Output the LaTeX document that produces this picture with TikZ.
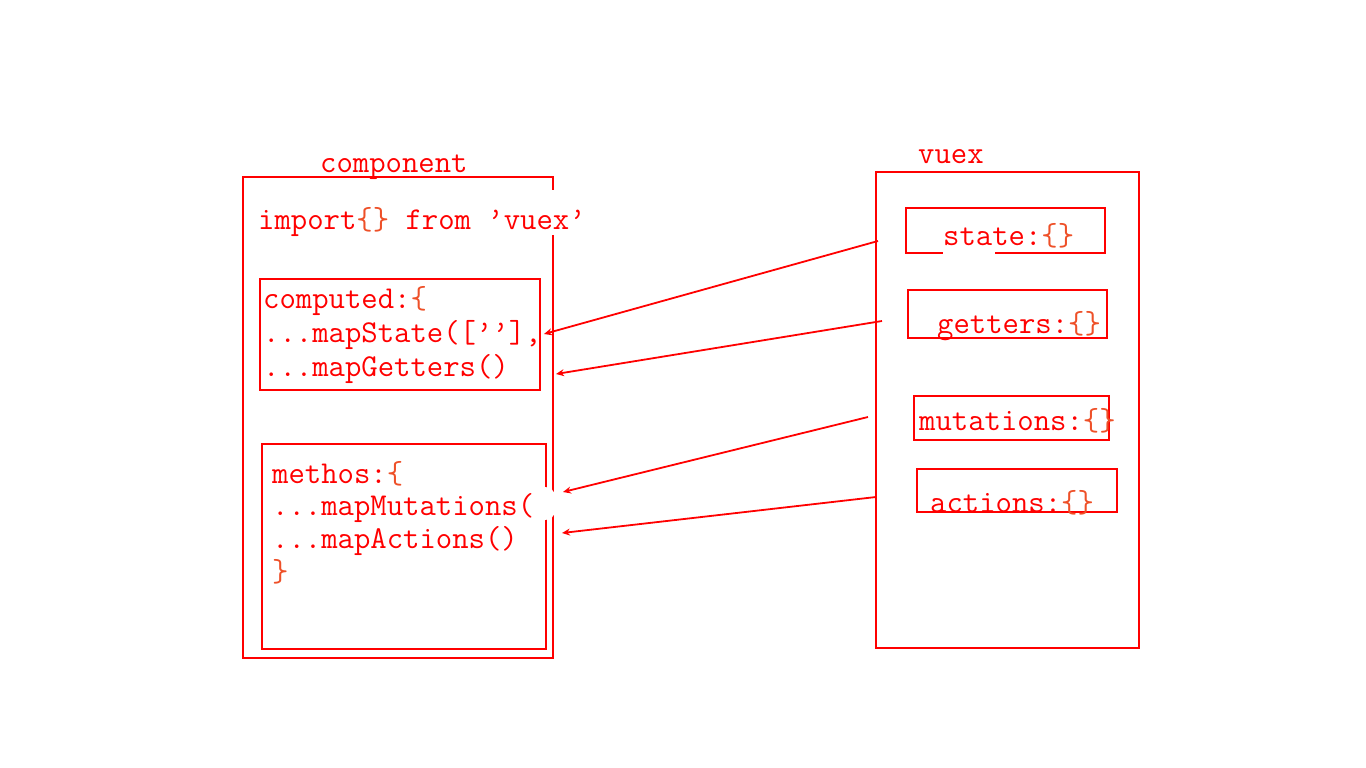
\documentclass[tikz,border=0pt]{standalone}
\usetikzlibrary{arrows.meta}
\definecolor{inkred}{RGB}{255,0,0}
\definecolor{bracered}{RGB}{238,80,40}
\newcommand{\obr}{\textcolor{bracered}{\{}}
\newcommand{\cbr}{\textcolor{bracered}{\}}}

\begin{document}
\begin{tikzpicture}[x=1pt, y=-1pt,
  every node/.style={font=\ttfamily\fontsize{31.8}{33.5}\selectfont, text=inkred, inner sep=0pt, anchor=base west},
  box/.style={draw=inkred, line width=2pt, anchor=center},
  cover/.style={fill=white},
  link/.style={draw=inkred, line width=1.8pt, -{Stealth[length=8pt,width=7pt]}}]
  \useasboundingbox (0,0) rectangle (1366,768);
  % component side
  \node[box, minimum width=310pt, minimum height=481pt] (compbox) at (398,417.5) {};
  \node[box, minimum width=280pt, minimum height=111pt] (computedbox) at (400,334.5) {};
  \node[box, minimum width=284pt, minimum height=205pt] (methodsbox) at (404,546.5) {};
  \node (complabel) at (320,172) {component};
  \node[cover, text height=39pt, text depth=6pt] (importline) at (258,229) {import\obr\cbr\ from ’vuex’};
  \node (computedline) at (263,308) {computed:\obr};
  \node (stateline) at (263,342) {...mapState([’’],};
  \node (gettersline) at (263,376) {...mapGetters()};
  \node (methosline) at (272,483) {methos:\obr};
  \node[cover, text width=283pt, text height=28pt, text depth=5pt, rounded corners=10pt] (mutationsline) at (272,515) {...mapMutations(};
  \node (actionsline) at (272,548) {...mapActions()};
  \node (closeline) at (272,581) {\cbr};
  % vuex side
  \node[box, minimum width=263pt, minimum height=476pt] (vuexbox) at (1007.5,410) {};
  \node[box, minimum width=199pt, minimum height=45pt] (statebox) at (1005.5,230.5) {};
  \draw[white, line width=3pt] (943,253) -- (995,253);
  \node[box, minimum width=199pt, minimum height=48pt] (gettersbox) at (1007.5,314) {};
  \node[box, minimum width=195pt, minimum height=44pt] (mutationsbox) at (1011.5,418) {};
  \node[box, minimum width=200pt, minimum height=43pt] (actionsbox) at (1017,490.5) {};
  \node (vuexlabel) at (918,163) {vuex};
  \node (statetext) at (943,245) {state:\obr\cbr};
  \node (getterstext) at (937,333) {getters:\obr\cbr};
  \node (mutationstext) at (919,430) {mutations:\obr\cbr};
  \node (actionstext) at (930,512) {actions:\obr\cbr};
  % arrows
  \coordinate (stateout) at (878,241);
  \coordinate (statein) at (544,334);
  \coordinate (gettersout) at (882,321);
  \coordinate (gettersin) at (556,374);
  \coordinate (mutationsout) at (868,417);
  \coordinate (mutationsin) at (563,492);
  \coordinate (actionsout) at (876,497);
  \coordinate (actionsin) at (562,533);
  \draw[link] (stateout) -- (statein);
  \draw[link] (gettersout) -- (gettersin);
  \draw[link] (mutationsout) -- (mutationsin);
  \draw[link] (actionsout) -- (actionsin);
\end{tikzpicture}
\end{document}
